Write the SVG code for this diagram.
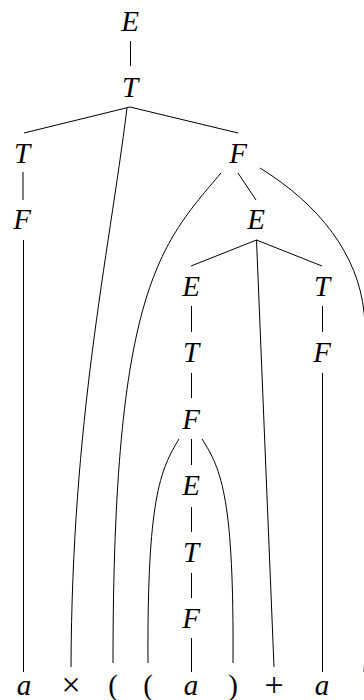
<svg xmlns="http://www.w3.org/2000/svg" width="364" height="700" viewBox="0 0 364 700">
<style>
text{font-family:"Liberation Serif","Times New Roman",serif;font-size:29px;text-anchor:middle;fill:#000}
.v{font-style:italic}
.op{font-size:34px}
.c path,.c line{stroke:#000;stroke-width:1;fill:none}
</style>
<rect width="364" height="700" fill="#fff"/>
<g class="c" id="connectors">
<line x1="130.5" y1="41" x2="130.5" y2="66"/>
<line x1="130" y1="107" x2="24" y2="133"/>
<line x1="130" y1="107" x2="238" y2="133"/>
<path d="M127,108 C108,260 72,420 71,667"/>
<line x1="23" y1="172" x2="23" y2="200"/>
<line x1="23.5" y1="240" x2="23.5" y2="672"/>
<path d="M221,173 C160,245 113,290 113,663"/>
<line x1="238" y1="173" x2="256" y2="200"/>
<path d="M260,168 C320,205 358,255 364,312 C369,360 369,600 364,672"/>
<line x1="256.5" y1="240" x2="191" y2="266"/>
<line x1="256.5" y1="240" x2="322" y2="266"/>
<line x1="256.5" y1="240" x2="274" y2="667"/>
<line x1="191.5" y1="306" x2="191.5" y2="332"/>
<line x1="191.5" y1="373" x2="191.5" y2="398"/>
<line x1="191.5" y1="439" x2="191.5" y2="465"/>
<path d="M179,439 C160,470 147,500 148,663"/>
<path d="M202,439 C222,470 234,500 233,663"/>
<line x1="191.5" y1="507" x2="191.5" y2="532"/>
<line x1="191.5" y1="573" x2="191.5" y2="598"/>
<line x1="191.5" y1="638" x2="191.5" y2="672"/>
<line x1="322.5" y1="306" x2="322.5" y2="332"/>
<line x1="322.5" y1="373" x2="322.5" y2="672"/>
</g>
<g id="n-E0"><text class="v" x="130" y="31">E</text></g>
<g id="n-T0"><text class="v" x="130" y="97">T</text></g>
<g id="n-T1"><text class="v" x="22" y="163">T</text></g>
<g id="n-F1"><text class="v" x="22" y="229">F</text></g>
<g id="n-F2"><text class="v" x="238" y="163">F</text></g>
<g id="n-E2"><text class="v" x="256" y="229">E</text></g>
<g id="n-E3"><text class="v" x="191" y="296">E</text></g>
<g id="n-T3"><text class="v" x="191" y="362">T</text></g>
<g id="n-F3"><text class="v" x="191" y="429">F</text></g>
<g id="n-E4"><text class="v" x="191" y="495">E</text></g>
<g id="n-T4"><text class="v" x="191" y="562">T</text></g>
<g id="n-F4"><text class="v" x="191" y="628">F</text></g>
<g id="n-T5"><text class="v" x="322" y="296">T</text></g>
<g id="n-F5"><text class="v" x="322" y="362">F</text></g>
<g id="t-a1"><text class="v" x="24" y="695">a</text></g>
<g id="t-times"><text class="op" x="71" y="696">×</text></g>
<g id="t-lp1"><text x="113" y="695">(</text></g>
<g id="t-lp2"><text x="148" y="695">(</text></g>
<g id="t-a2"><text class="v" x="191" y="695">a</text></g>
<g id="t-rp1"><text x="233" y="695">)</text></g>
<g id="t-plus"><text class="op" x="274" y="696">+</text></g>
<g id="t-a3"><text class="v" x="322" y="695">a</text></g>
<g id="t-rp2"><text x="368" y="695">)</text></g>
</svg>
